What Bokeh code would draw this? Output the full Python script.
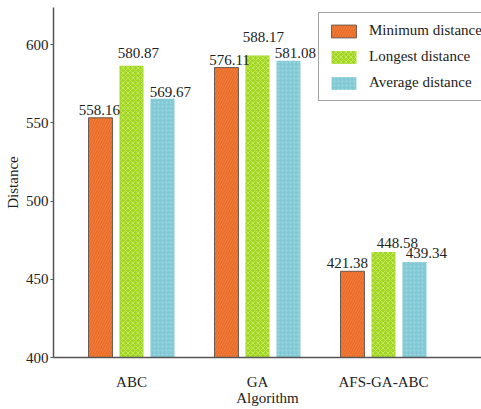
from bokeh.plotting import figure
from bokeh.models import ColumnDataSource, FixedTicker, SingleIntervalTicker, Legend, LegendItem, Range1d
from bokeh.transform import dodge
from bokeh.core.properties import value
from bokeh.embed import file_html
from bokeh.resources import INLINE

# ---- data ----
algorithms = ["ABC", "GA", "AFS-GA-ABC"]
min_dist = [553.2, 585.3, 455.1]
longest_dist = [586.5, 593.0, 467.5]
average_dist = [565.4, 589.7, 461.1]
min_labels = ["558.16", "576.11", "421.38"]
longest_labels = ["580.87", "588.17", "448.58"]
average_labels = ["569.67", "581.08", "439.34"]
series_names = ["Minimum distance", "Longest distance", "Average distance"]
y_ticks_interval = 50
y_min, y_max = 400, 623.7

# label nudges (styling, screen px)
min_lab_dx, min_lab_dy = [-1, 3, -5], [-3, -3, -3]
lg_lab_dx, lg_lab_dy = [7, 6, 14], [-8, -14, -4]
av_lab_dx, av_lab_dy = [8, 7, 12], [-2, -3, -4]

idx = list(range(1, len(algorithms) + 1))
source = ColumnDataSource(dict(
    x=idx, mn=min_dist, lg=longest_dist, av=average_dist,
    mn_l=min_labels, lg_l=longest_labels, av_l=average_labels,
    mn_dx=min_lab_dx, mn_dy=min_lab_dy, lg_dx=lg_lab_dx, lg_dy=lg_lab_dy,
    av_dx=av_lab_dx, av_dy=av_lab_dy,
))

FONT = "Liberation Serif"

p = figure(width=481, height=409, output_backend="svg", toolbar_location=None,
           x_range=Range1d(0.381, 3.778), y_range=Range1d(y_min, y_max),
           min_border_left=53, min_border_right=0, min_border_top=7, min_border_bottom=52)
p.outline_line_color = None
p.xgrid.visible = False
p.ygrid.visible = False
p.background_fill_color = "white"

off = 0.246
bw = 0.19

r1 = p.vbar(x=dodge("x", -off, range=p.x_range), top="mn", bottom=y_min, width=bw, source=source,
            fill_color="#F47B35", line_color="#6b5a50", line_width=1,
            hatch_pattern="/", hatch_color="#D95E22", hatch_scale=5, hatch_weight=1, hatch_alpha=0.7)
r2 = p.vbar(x=dodge("x", 0, range=p.x_range), top="lg", bottom=y_min, width=bw, source=source,
            fill_color="#A2D623", line_color=None,
            hatch_pattern="x", hatch_color="#C9EC6A", hatch_scale=5, hatch_weight=1, hatch_alpha=0.8)
r3 = p.vbar(x=dodge("x", off, range=p.x_range), top="av", bottom=y_min, width=bw, source=source,
            fill_color="#82CAD6", line_color=None,
            hatch_pattern="dot", hatch_color="#A9DDE6", hatch_scale=4, hatch_weight=1, hatch_alpha=0.8)

for col, lab, o, pre in [("mn", "mn_l", -off, "mn"), ("lg", "lg_l", 0, "lg"), ("av", "av_l", off, "av")]:
    p.text(x=dodge("x", o, range=p.x_range), y=col, text=lab, source=source,
           text_align="center", text_baseline="bottom", x_offset=pre + "_dx", y_offset=pre + "_dy",
           text_font=value(FONT), text_font_size="15px", text_color="#222222")

# axes
p.xaxis.ticker = FixedTicker(ticks=idx)
p.xaxis.major_label_overrides = {i: a for i, a in zip(idx, algorithms)}
p.xaxis.axis_label = "Algorithm"
p.xaxis.major_tick_out = 0
p.xaxis.major_tick_in = 0
p.xaxis.minor_tick_out = 0
p.xaxis.minor_tick_in = 0
p.xaxis.major_label_standoff = 16
p.xaxis.axis_label_standoff = -3

p.yaxis.ticker = SingleIntervalTicker(interval=y_ticks_interval)
p.yaxis.axis_label = "Distance"
p.yaxis.major_tick_out = 3
p.yaxis.major_tick_in = 0
p.yaxis.minor_tick_out = 0
p.yaxis.minor_tick_in = 0
p.yaxis.major_label_standoff = 2
p.yaxis.axis_label_standoff = 2

for ax in (p.xaxis[0], p.yaxis[0]):
    ax.axis_line_color = "#555555"
    ax.axis_line_width = 1.5
    ax.major_tick_line_color = "#555555"
    ax.major_label_text_font = FONT
    ax.major_label_text_font_size = "15px"
    ax.major_label_text_color = "#222222"
    ax.axis_label_text_font = FONT
    ax.axis_label_text_font_size = "15px"
    ax.axis_label_text_font_style = "normal"
    ax.axis_label_text_color = "#222222"

legend = Legend(items=[LegendItem(label=series_names[0], renderers=[r1]),
                       LegendItem(label=series_names[1], renderers=[r2]),
                       LegendItem(label=series_names[2], renderers=[r3])],
                location=(265, 256), orientation="vertical",
                glyph_width=31, glyph_height=16, label_height=16, spacing=9,
                padding=9, margin=0, label_standoff=10,
                label_text_font=FONT, label_text_font_size="15px", label_text_color="#222222",
                border_line_color="#444444", border_line_width=1.2,
                background_fill_color="white", background_fill_alpha=1)
p.add_layout(legend, "center")

open("out.html", "w").write(file_html(p, INLINE))
